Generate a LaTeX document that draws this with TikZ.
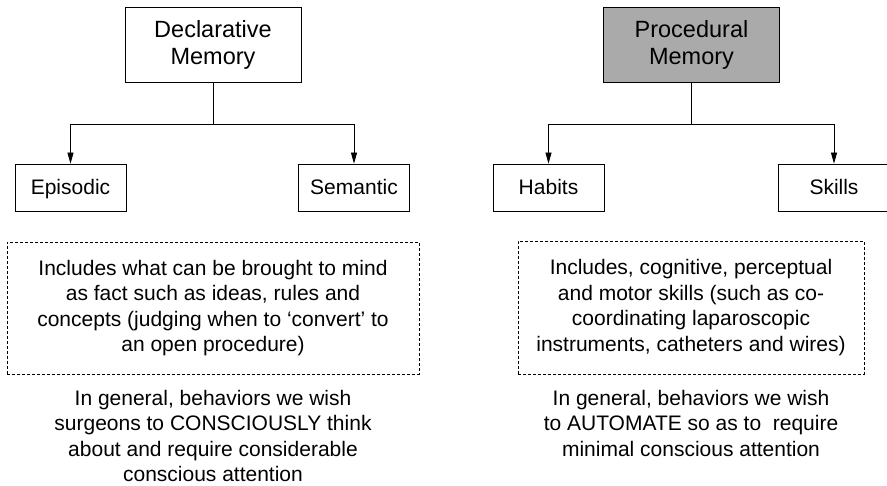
\documentclass[tikz,border=0pt]{standalone}
\usepackage{fontspec}
\setmainfont{Liberation Sans}
\usetikzlibrary{arrows.meta}

\begin{document}
\begin{tikzpicture}[x = 1pt, y = -1pt, line width = 0.8pt,
		memory/.style = {draw, minimum width = 176pt, minimum height = 75pt, align = center, font = \fontsize{23.5}{27}\selectfont},
		kind/.style = {draw, minimum width = 111pt, minimum height = 47pt, text height = 15pt, text depth = 0pt, font = \fontsize{21}{25.5}\selectfont},
		note/.style = {draw, dashed, dash pattern = on 3pt off 2pt, line width = 0.6pt, align = center, font = \fontsize{21}{25.5}\selectfont},
		aim/.style = {align = center, font = \fontsize{21}{25.5}\selectfont},
		tip/.style = {-{Triangle[width = 6pt, length = 11pt]}}]
	\useasboundingbox (0,0) rectangle (887,486);

	% declarative side
	\begin{scope}
		\node [memory] (decl) at (213,44.5) {Declarative\\Memory};
		\node [kind] (episodic) at (70.5,187.5) {Episodic};
		\node [kind] (semantic) at (354,187.5) {Semantic};
		\coordinate (declfork) at (213,124);

		\draw (decl) -- (declfork);
		\draw [tip] (declfork) -| (episodic);
		\draw [tip] (declfork) -| (semantic);

		\node [note, minimum width = 412pt, minimum height = 132pt] (declnote) at (213,308) {Includes what can be brought to mind\\as fact such as ideas, rules and\\concepts (judging when to `convert' to\\an open procedure)};
		\node [aim] (declaim) at (213,436) {In general, behaviors we wish\\surgeons to CONSCIOUSLY think\\about and require considerable\\conscious attention};
	\end{scope}

	% procedural side
	\begin{scope}
		\node [memory, fill = gray!67] (proc) at (691.5,44.5) {Procedural\\Memory};
		\node [kind] (habits) at (548.5,187.5) {Habits};
		\node [kind] (skills) at (834,187.5) {Skills};
		\coordinate (procfork) at (691.5,124);

		\draw (proc) -- (procfork);
		\draw [tip] (procfork) -| (habits);
		\draw [tip] (procfork) -| (skills);

		\node [note, minimum width = 346pt, minimum height = 133pt] (procnote) at (691,307.5) {Includes, cognitive, perceptual\\and motor skills (such as co-\\coordinating laparoscopic\\instruments, catheters and wires)};
		\node [aim] (procaim) at (691,423) {In general, behaviors we wish\\to AUTOMATE so as to~~require\\minimal conscious attention};
	\end{scope}
\end{tikzpicture}
\end{document}
